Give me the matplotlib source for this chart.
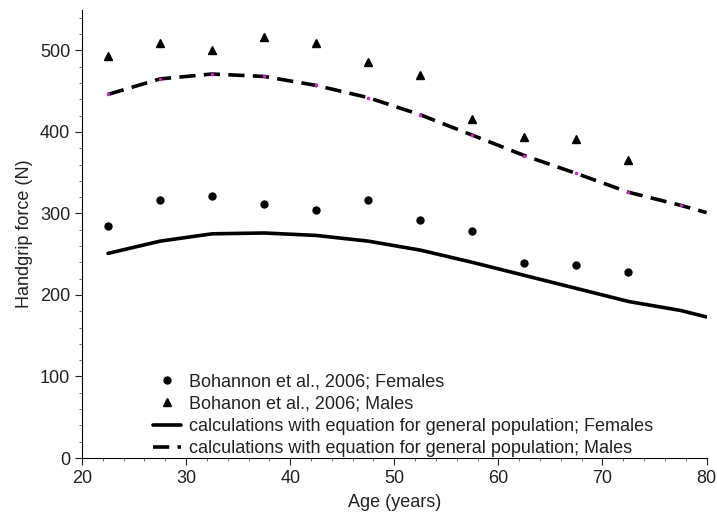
import matplotlib
matplotlib.use('Agg')
import matplotlib.pyplot as plt
from matplotlib.ticker import MultipleLocator

plt.rcParams['font.family'] = ['Liberation Sans', 'DejaVu Sans']

## Measured handgrip force by age group (Bohannon et al., 2006).
age_groups = [22.5, 27.5, 32.5, 37.5, 42.5, 47.5, 52.5, 57.5, 62.5, 67.5, 72.5]
females_measured = [285, 316, 321, 311, 304, 316, 292, 279, 239, 237, 228]
males_measured = [493, 509, 501, 516, 509, 486, 470, 416, 394, 391, 365]

## Values from the general population equation.
calc_ages = [22.5, 27.5, 32.5, 37.5, 42.5, 47.5, 52.5, 57.5, 62.5, 67.5, 72.5, 77.5, 80]
females_calc = [251, 266, 275, 276, 273, 266, 255, 240, 224, 208, 192, 181, 173]
males_calc = [446, 465, 471, 468, 457, 442, 421, 396, 371, 349, 326, 310, 301]

fig = plt.figure(figsize=(7.17, 5.19), dpi=100)
ax = fig.add_axes([0.1144, 0.1175, 0.871, 0.864])

ax.plot(age_groups, females_measured, 'o', color='black', markersize=5,
        label='Bohannon et al., 2006; Females')
ax.plot(age_groups, males_measured, '^', color='black', markersize=6,
        label='Bohanon et al., 2006; Males')
ax.plot(calc_ages, females_calc, '-', color='black', linewidth=2.6,
        solid_capstyle='round', solid_joinstyle='round',
        label='calculations with equation for general population; Females')
ax.plot(calc_ages, males_calc, '--', color='black', linewidth=2.6,
        dashes=(4.5, 2.3),
        label='calculations with equation for general population; Males')
## Small magenta points where the dashed curve was evaluated.
ax.plot(calc_ages[:-1], males_calc[:-1], '.', color='#d020d0', markersize=3)

ax.set_xlim(20, 80)
ax.set_ylim(0, 550)
ax.xaxis.set_major_locator(MultipleLocator(10))
ax.xaxis.set_minor_locator(MultipleLocator(2))
ax.yaxis.set_major_locator(MultipleLocator(100))
ax.yaxis.set_minor_locator(MultipleLocator(20))
ax.tick_params(which='major', direction='out', length=5, width=0.8,
               labelsize=13, colors='#222222')
ax.tick_params(which='minor', direction='out', length=2.5, width=0.6,
               color='#555555')

ax.spines['top'].set_visible(False)
ax.spines['right'].set_visible(False)

ax.set_xlabel('Age (years)', fontsize=13, color='#222222', labelpad=5)
ax.set_ylabel('Handgrip force (N)', fontsize=13, color='#222222', labelpad=5)

ax.legend(loc='lower left', bbox_to_anchor=(0.087, -0.035), frameon=False,
          fontsize=13, handlelength=1.6, handletextpad=0.4, labelspacing=0.3,
          labelcolor='#222222')

fig.savefig('out.png', dpi=100)
